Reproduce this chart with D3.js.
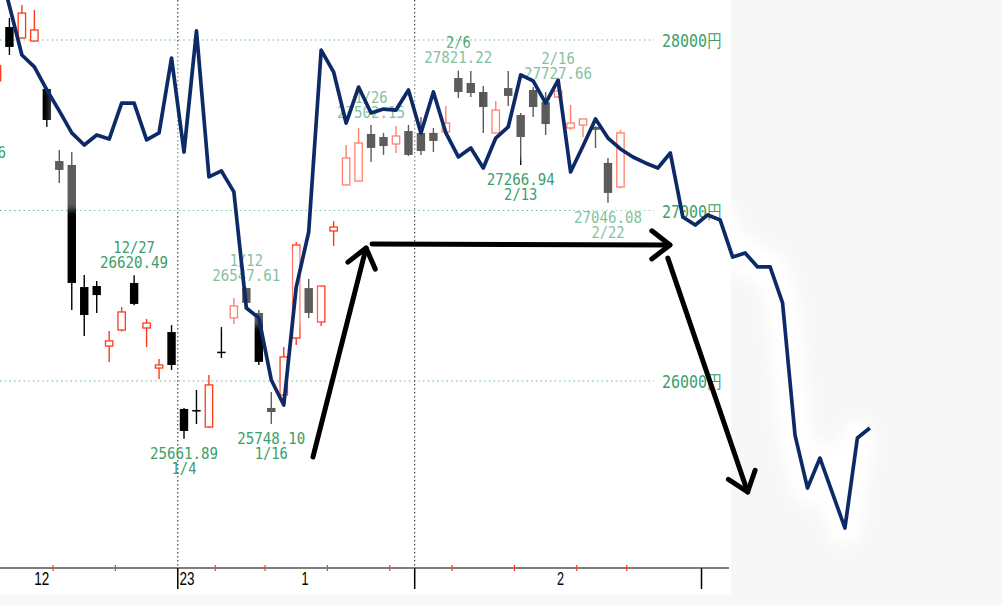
<!DOCTYPE html>
<html><head><meta charset="utf-8">
<script src="https://cdn.jsdelivr.net/npm/d3@7"></script>
<style>html,body{margin:0;padding:0;background:#fff;overflow:hidden}</style>
</head><body><svg id="c" width="1002" height="605"></svg>
<script>
// ---------- data ----------
const dates = ["12/12","12/13","12/14","12/15","12/16","12/19","12/20","12/21","12/22","12/23","12/26","12/27","12/28","12/29","12/30",
  "1/4","1/5","1/6","1/10","1/11","1/12","1/13","1/16","1/17","1/18","1/19","1/20","1/23","1/24","1/25","1/26","1/27","1/30","1/31",
  "2/1","2/2","2/3","2/6","2/7","2/8","2/9","2/10","2/13","2/14","2/15","2/16","2/17","2/20","2/21","2/22","2/24"];
const openV  = [27760,28076,28012,27994,27713,27290,27267,26551,26557,26205,26299,26575,26311,26076,26287,
  25836,25830,25730,26172,26370,26545,26399,25842,25918,26252,26545,26346,26880,27150,27173,27449,27431,27390,27466,
  27455,27455,27461,27777,27748,27695,27455,27718,27560,27707,27636,27666,27484,27501,27490,27279,27138];
const highV  = [27870,28129,28205,28176,27720,27355,27343,26622,26587,26293,26434,26620.49,26364,26129,26328,
  25842,25947,26035,26317,26487,26547.61,26416,25935,26200,26815,26598,26560,26938,27384,27484,27502.15,27455,27496,27502,
  27548,27484,27613,27821.22,27818,27730,27642,27818,27572,27724,27695,27727.66,27619,27537,27495,27308,27472];
const lowV   = [27740,27912,28008,27990,27490,27161,26416,26264,26399,26112,26290,26445,26199,26012,26065,
  25661.89,25748,25725,26135,26334,26434,26094,25748.10,25915,26211,26370,26323,26792,27148,27170,27284,27326,27337,27320,
  27326,27343,27458,27660,27666,27455,27450,27613,27266.94,27548,27443,27660,27472,27431,27367,27046.08,27130];
const closeV = [27850,27959,28158,28059,27531,27238,26575,26387,26504,26235,26405,26452,26340,26094,26094,
  25707,25821,25977,26168,26440,26458,26112,25818,26141,26798,26399,26557,26903,27308,27396,27367,27378,27437,27326,
  27349,27408,27513,27695,27689,27607,27589,27672,27431,27607,27507,27701,27513,27537,27473,27103,27455];
const firstSlot = -15;   // slot of the first candle (1/4 = slot 0)

// overlaid comparison line (one value per slot)
const lineFirstSlot = -15;
const lineValues = [28487,28199,27912,27842,27707,27584,27455,27384,27443,27419,27630,27630,27414,27455,27894,
  27343,28053,27197,27232,27109,26428,26370,26006,25859,26551,26874,27941,27812,27513,27724,27572,27595,27589,27707,
  27455,27695,27455,27314,27367,27249,27425,27490,27795,27760,27630,27765,27226,27378,27537,27425,27361,27314,27279,27249,
  27337,26962,26915,26974,26944,26727,26751,26669,26669,26458,25683,25372,25548,25343,25138,25666,25724];

const priceTicks = [26000, 27000, 28000];
const priceTickLabels = ["26000円", "27000円", "28000円"];
const monthLabels = ["12", "23", "1", "2"];
const monthLabelSlots = [-11.4, 0.24, 9.7, 30.2];
const monthBoundarySlots = [-0.5, 18.5, 41.5];
const gridVSlots = [-0.5, 18.5];
const weekSlots = [-10.5, -5.5, 2.5, 6.5, 11.5, 16.5, 21.5, 26.5, 31.5, 35.5];

const annDates  = ["12/27","1/12","1/26","2/6","2/16","1/4","1/16","2/13","2/22","12/8"];
const annValues = ["26620.49","26547.61","27502.15","27821.22","27727.66","25661.89","25748.10","27266.94","27046.08","27425.16"];
const annKinds  = ["high","high","high","high","high","low","low","low","low","low"];
const annSlots  = [-4, 5, 15, 22, 30, 0, 7, 27, 34, -17];

const arrowTailSlot  = [10.34, 15.08, 38.8];
const arrowTailPrice = [25554, 26804, 26721];
const arrowTipSlot   = [14.6, 38.97, 45.2];
const arrowTipPrice  = [26780, 26798, 25349];

// faded (washed-out) zones of the pasted overlay
const fadeSlot0  = [-10.75, 23.74, 31.1, 2.08, 6.3];
const fadeSlot1  = [23.74, 38.17, 38.17, 10.75, 7.7];
const fadeTop    = [27971, 27971, 27296, 26780, 25977];
const fadeBottom = [27003, 27296, 26815, 26323, 25713];

// ---------- scales ----------
const xs = d3.scaleLinear().domain([0, 1]).range([184, 196.47]);
const ys = d3.scaleLinear().domain([26000, 28000]).range([381, 40]);

const W = 1002, H = 605, PLOT_R = 731, PLOT_B = 595, AXIS_Y = 568;
const RED = "#ff3a1a", GREEN = "#3a9e6a", NAVY = "#0f2a68";

const svg = d3.select("#c");
const defs = svg.append("defs");
function blur(id, sd) {
  defs.append("filter").attr("id", id).attr("x", "-30%").attr("y", "-30%").attr("width", "160%").attr("height", "160%")
    .append("feGaussianBlur").attr("stdDeviation", sd);
}
blur("halo", 7); blur("soft", 3); blur("lb", 0.55);

// background panels
svg.append("rect").attr("x", 0).attr("y", 0).attr("width", W).attr("height", H).attr("fill", "#fff");
svg.append("rect").attr("x", PLOT_R).attr("y", 0).attr("width", W - PLOT_R).attr("height", H).attr("fill", "#f7f7f7");
svg.append("rect").attr("x", 0).attr("y", PLOT_B).attr("width", PLOT_R).attr("height", H - PLOT_B).attr("fill", "#f7f7f7");

const lineGen = d3.line().x((d, i) => xs(lineFirstSlot + i)).y(d => ys(d));

// white halo of the pasted line
svg.append("path").datum(lineValues).attr("d", lineGen)
  .attr("fill", "none").attr("stroke", "#fff").attr("stroke-width", 34)
  .attr("stroke-linejoin", "round").attr("filter", "url(#halo)");

// horizontal gridlines + price labels
const gy = svg.append("g");
priceTicks.forEach((p, i) => {
  gy.append("line").attr("x1", 0).attr("x2", 654).attr("y1", ys(p)).attr("y2", ys(p))
    .attr("stroke", "#5cb88a").attr("stroke-width", 1.2).attr("stroke-dasharray", "1.5,3.2");
  gy.append("text").attr("x", 662).attr("y", ys(p) + 7).text(priceTickLabels[i])
    .attr("font-family", "DejaVu Sans Mono, monospace").attr("font-size", 18).attr("fill", GREEN)
    .attr("textLength", 60).attr("lengthAdjust", "spacingAndGlyphs");
});

// vertical dotted separators
gridVSlots.forEach(s => {
  svg.append("line").attr("x1", xs(s)).attr("x2", xs(s)).attr("y1", 0).attr("y2", AXIS_Y - 2)
    .attr("stroke", "#444").attr("stroke-width", 1.2).attr("stroke-dasharray", "1.5,2.5");
});

// candles
const gc = svg.append("g");
dates.forEach((d, i) => {
  const x = xs(firstSlot + i);
  const o = openV[i], c = closeV[i], h = highV[i], l = lowV[i];
  const up = c > o;
  const col = up ? RED : "#000";
  gc.append("line").attr("x1", x).attr("x2", x).attr("y1", ys(h)).attr("y2", ys(l))
    .attr("stroke", col).attr("stroke-width", 1.4);
  const yTop = ys(Math.max(o, c)), yBot = ys(Math.min(o, c));
  const bh = Math.max(yBot - yTop, 1.5);
  if (up) {
    gc.append("rect").attr("x", x - 3.7).attr("y", yTop).attr("width", 7.4).attr("height", bh)
      .attr("fill", "#fff").attr("stroke", col).attr("stroke-width", 1.3);
  } else {
    gc.append("rect").attr("x", x - 4.2).attr("y", yTop).attr("width", 8.4).attr("height", bh)
      .attr("fill", col);
  }
});

// high / low annotations
const ga = svg.append("g").attr("font-family", "DejaVu Sans Mono, monospace").attr("font-size", 15).attr("fill", GREEN)
  .attr("text-anchor", "middle");
annDates.forEach((d, i) => {
  const x = xs(annSlots[i]);
  const py = ys(parseFloat(annValues[i]));
  let yVal, yDate;
  if (annKinds[i] === "high") { yVal = py - 7; yDate = py - 22; }
  else { yVal = py + 20; yDate = py + 35; }
  ga.append("text").attr("x", x).attr("y", yDate).text(d)
    .attr("textLength", d.length * 8.3).attr("lengthAdjust", "spacingAndGlyphs");
  ga.append("text").attr("x", x).attr("y", yVal).text(annValues[i])
    .attr("textLength", annValues[i].length * 8.5).attr("lengthAdjust", "spacingAndGlyphs");
});

// washed-out zones
fadeSlot0.forEach((s, i) => {
  svg.append("rect").attr("x", xs(s)).attr("y", ys(fadeTop[i]))
    .attr("width", xs(fadeSlot1[i]) - xs(s)).attr("height", ys(fadeBottom[i]) - ys(fadeTop[i]))
    .attr("fill", "#fff").attr("opacity", 0.36).attr("filter", "url(#soft)");
});

// navy comparison line
svg.append("path").datum(lineValues).attr("d", lineGen)
  .attr("fill", "none").attr("stroke", NAVY).attr("stroke-width", 3.7)
  .attr("stroke-linejoin", "round").attr("filter", "url(#lb)");

// hand-drawn arrows
arrowTailSlot.forEach((s, i) => {
  const x0 = xs(s), y0 = ys(arrowTailPrice[i]);
  const x1 = xs(arrowTipSlot[i]), y1 = ys(arrowTipPrice[i]);
  const a = Math.atan2(y1 - y0, x1 - x0);
  const L = 23, sp = 0.66;
  const h1 = [x1 - L * Math.cos(a - sp), y1 - L * Math.sin(a - sp)];
  const h2 = [x1 - L * Math.cos(a + sp), y1 - L * Math.sin(a + sp)];
  const g = svg.append("g").attr("stroke", "#000").attr("stroke-width", 5).attr("fill", "none")
    .attr("stroke-linecap", "round").attr("stroke-linejoin", "round");
  g.append("line").attr("x1", x0).attr("y1", y0).attr("x2", x1).attr("y2", y1);
  g.append("path").attr("d", `M${h1[0]},${h1[1]}L${x1},${y1}L${h2[0]},${h2[1]}`);
});

// bottom axis
svg.append("line").attr("x1", 0).attr("x2", PLOT_R - 2).attr("y1", AXIS_Y).attr("y2", AXIS_Y)
  .attr("stroke", "#000").attr("stroke-width", 1.2);
weekSlots.forEach(s => {
  svg.append("line").attr("x1", xs(s)).attr("x2", xs(s)).attr("y1", AXIS_Y - 3).attr("y2", AXIS_Y + 3)
    .attr("stroke", RED).attr("stroke-width", 1.2);
});
monthBoundarySlots.forEach(s => {
  svg.append("line").attr("x1", xs(s)).attr("x2", xs(s)).attr("y1", AXIS_Y).attr("y2", AXIS_Y + 21)
    .attr("stroke", "#000").attr("stroke-width", 1.5);
});
monthLabels.forEach((m, i) => {
  svg.append("text").attr("x", xs(monthLabelSlots[i])).attr("y", AXIS_Y + 17).text(m)
    .attr("text-anchor", "middle").attr("font-family", "Liberation Sans, Arial, sans-serif").attr("font-size", 19)
    .attr("fill", "#000").attr("textLength", m.length * 8 - 1).attr("lengthAdjust", "spacingAndGlyphs");
});
</script></body></html>
